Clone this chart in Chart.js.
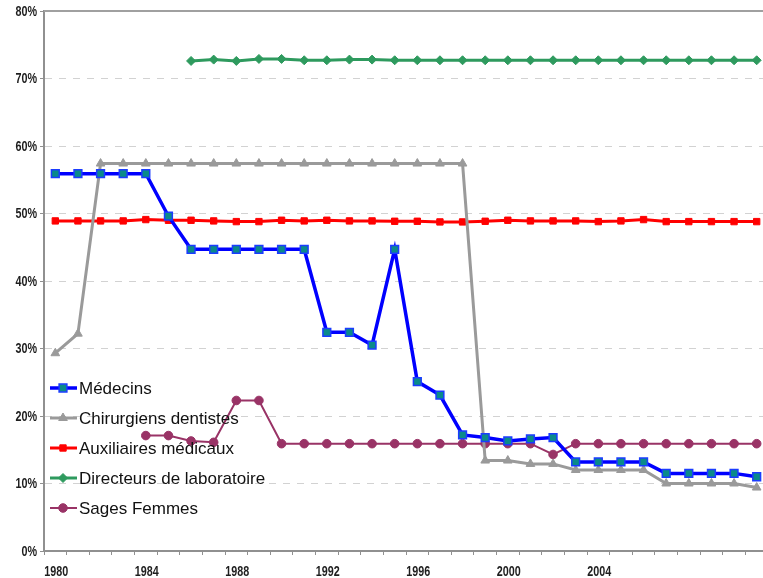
<!DOCTYPE html>
<html>
<head>
<meta charset="utf-8">
<script src="https://cdn.jsdelivr.net/npm/chart.js@4.4.1/dist/chart.umd.min.js"></script>
<style>
    html, body { margin: 0; padding: 0; background: #fff; overflow: hidden; }
    #wrap { width: 775px; height: 578px; }
</style>
</head>
<body>
<div id="wrap"><canvas id="myChart" width="775" height="578"></canvas></div>
<script>
const years = ['1980', '1981', '1982', '1983', '1984', '1985', '1986', '1987', '1988', '1989',
    '1990', '1991', '1992', '1993', '1994', '1995', '1996', '1997', '1998', '1999',
    '2000', '2001', '2002', '2003', '2004', '2005', '2006', '2007', '2008', '2009',
    '2010', '2011'];
const xTickLabels = ['1980', '1984', '1988', '1992', '1996', '2000', '2004'];
const yTicks = [0, 10, 20, 30, 40, 50, 60, 70, 80];

const medecins = [55.9, 55.9, 55.9, 55.9, 55.9, 49.6, 44.7, 44.7, 44.7, 44.7,
    44.7, 44.7, 32.4, 32.4, 30.5, 44.7, 25.1, 23.1, 17.2, 16.8,
    16.3, 16.6, 16.8, 13.2, 13.2, 13.2, 13.2, 11.5, 11.5, 11.5,
    11.5, 11.0];
const dentistes = [29.3, 32.2, 57.4, 57.4, 57.4, 57.4, 57.4, 57.4, 57.4, 57.4,
    57.4, 57.4, 57.4, 57.4, 57.4, 57.4, 57.4, 57.4, 57.4, 13.4,
    13.4, 12.9, 12.9, 12.0, 12.0, 12.0, 12.0, 10.0, 10.0, 10.0,
    10.0, 9.4];
const auxiliaires = [48.9, 48.9, 48.9, 48.9, 49.1, 49.0, 49.0, 48.9, 48.8, 48.8,
    49.0, 48.9, 49.0, 48.9, 48.9, 48.85, 48.85, 48.75, 48.75, 48.85,
    49.0, 48.9, 48.9, 48.9, 48.8, 48.9, 49.1, 48.8, 48.8, 48.8,
    48.8, 48.8];
const directeurs = [null, null, null, null, null, null, 72.6, 72.8, 72.6, 72.9,
    72.9, 72.7, 72.7, 72.8, 72.8, 72.7, 72.7, 72.7, 72.7, 72.7,
    72.7, 72.7, 72.7, 72.7, 72.7, 72.7, 72.7, 72.7, 72.7, 72.7,
    72.7, 72.7];
const sagesFemmes = [null, null, null, null, 17.1, 17.1, 16.3, 16.1, 22.3, 22.3,
    15.9, 15.9, 15.9, 15.9, 15.9, 15.9, 15.9, 15.9, 15.9, 15.9,
    15.9, 15.9, 14.3, 15.9, 15.9, 15.9, 15.9, 15.9, 15.9, 15.9,
    15.9, 15.9];

// no narrow font installed: squeeze bold Liberation Sans to look like Arial Narrow
function drawNarrow(ctx, text, x, y, align) {
    ctx.save();
    ctx.translate(x, y);
    ctx.scale(0.77, 1);
    ctx.textAlign = align;
    ctx.textBaseline = 'middle';
    ctx.fillText(text, 0, 0);
    ctx.restore();
}

const narrowTicks = {
    id: 'narrowTicks',
    afterDraw(chart) {
        const ctx = chart.ctx;
        const xs = chart.scales.x;
        const ys = chart.scales.y;
        ctx.save();
        ctx.font = 'bold 14px "Liberation Sans", Arial, sans-serif';
        ctx.fillStyle = '#1e1e1e';
        xs.ticks.forEach((t, i) => {
            if (!xTickLabels.includes(years[i])) return;
            drawNarrow(ctx, years[i], xs.getPixelForTick(i) + 1, 572, 'center');
        });
        ys.ticks.forEach((t, i) => {
            drawNarrow(ctx, t.value + '%', 37, ys.getPixelForTick(i) + 1, 'right');
        });
        ctx.restore();
    }
};

// legend drawn inside the plot, Excel style (line + marker)
const insideLegend = {
    id: 'insideLegend',
    afterDatasetsDraw(chart) {
        const ctx = chart.ctx;
        ctx.save();
        ctx.font = '17px "Liberation Sans", Arial, sans-serif';
        ctx.textBaseline = 'middle';
        chart.data.datasets.forEach((ds, i) => {
            const y = 388 + i * 30;
            ctx.strokeStyle = ds.borderColor;
            ctx.lineWidth = ds.borderWidth;
            ctx.setLineDash([]);
            ctx.beginPath();
            ctx.moveTo(50, y);
            ctx.lineTo(77, y);
            ctx.stroke();
            ctx.fillStyle = ds.pointBackgroundColor;
            ctx.strokeStyle = ds.pointBorderColor;
            ctx.lineWidth = ds.pointBorderWidth;
            Chart.helpers.drawPoint(ctx, {
                pointStyle: ds.pointStyle,
                radius: ds.pointRadius,
                borderWidth: ds.pointBorderWidth,
                rotation: 0
            }, 63, y);
            ctx.fillStyle = '#111';
            ctx.fillText(ds.label, 79, y + 1);
        });
        ctx.restore();
    }
};

// solid frame line along the top of the plot
const topBorder = {
    id: 'topBorder',
    beforeDatasetsDraw(chart) {
        const a = chart.chartArea;
        const ctx = chart.ctx;
        ctx.save();
        ctx.strokeStyle = '#a0a0a0';
        ctx.lineWidth = 2;
        ctx.beginPath();
        ctx.moveTo(a.left, a.top);
        ctx.lineTo(a.right, a.top);
        ctx.stroke();
        ctx.restore();
    }
};

const ctx = document.getElementById('myChart').getContext('2d');
const myChart = new Chart(ctx, {
    type: 'line',
    data: {
        labels: years,
        datasets: [{
            label: 'Médecins',
            data: medecins,
            borderColor: '#0000ff',
            borderWidth: 3.5,
            pointStyle: 'rect',
            pointRadius: 5.5,
            pointBackgroundColor: '#0a8a8a',
            pointBorderColor: '#1a3cff',
            pointBorderWidth: 1.5
        }, {
            label: 'Chirurgiens dentistes',
            data: dentistes,
            borderColor: '#9a9a9a',
            borderWidth: 3,
            pointStyle: 'triangle',
            pointRadius: 5,
            pointBackgroundColor: '#9a9a9a',
            pointBorderColor: '#9a9a9a',
            pointBorderWidth: 1
        }, {
            label: 'Auxiliaires médicaux',
            data: auxiliaires,
            borderColor: '#ff0000',
            borderWidth: 3,
            pointStyle: 'rect',
            pointRadius: 4.5,
            pointBackgroundColor: '#ff0000',
            pointBorderColor: '#ff0000',
            pointBorderWidth: 1
        }, {
            label: 'Directeurs de laboratoire',
            data: directeurs,
            borderColor: '#2e9a5e',
            borderWidth: 3,
            pointStyle: 'rectRot',
            pointRadius: 4.5,
            pointBackgroundColor: '#2e9a5e',
            pointBorderColor: '#2e9a5e',
            pointBorderWidth: 1
        }, {
            label: 'Sages Femmes',
            data: sagesFemmes,
            borderColor: '#993366',
            borderWidth: 2,
            pointStyle: 'circle',
            pointRadius: 4.3,
            pointBackgroundColor: '#993366',
            pointBorderColor: '#993366',
            pointBorderWidth: 1
        }]
    },
    options: {
        responsive: false,
        animation: false,
        devicePixelRatio: 1,
        layout: { padding: { top: 11, right: 0, bottom: 0, left: 0 } },
        elements: { line: { tension: 0 } },
        plugins: {
            legend: { display: false },
            tooltip: { enabled: false }
        },
        scales: {
            x: {
                offset: true,
                afterFit(scale) { scale.height = 27; },
                grid: {
                    offset: true,
                    drawOnChartArea: false,
                    drawTicks: true,
                    tickLength: 4,
                    tickColor: '#909090',
                    tickWidth: 1
                },
                border: { color: '#909090', width: 2 },
                ticks: { display: false, autoSkip: false }
            },
            y: {
                min: 0,
                max: 80,
                afterFit(scale) { scale.width = 44; },
                afterBuildTicks(scale) { scale.ticks = yTicks.map(v => ({ value: v })); },
                grid: {
                    color: (c) => (c.tick && (c.tick.value === 0 || c.tick.value === 80)) ? 'rgba(0,0,0,0)' : '#d2d2d2',
                    lineWidth: 1,
                    drawTicks: true,
                    tickLength: 4,
                    tickColor: '#909090',
                    tickBorderDash: []
                },
                border: { color: '#909090', width: 2, dash: [7, 7] },
                ticks: { display: false }
            }
        }
    },
    plugins: [topBorder, insideLegend, narrowTicks]
});
</script>
</body>
</html>
